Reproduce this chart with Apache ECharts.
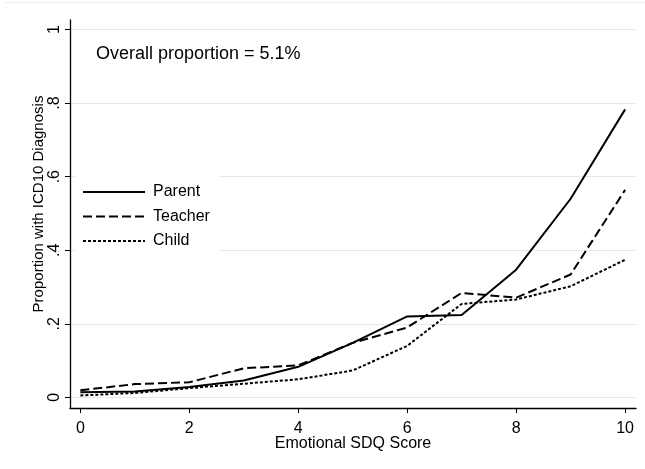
<!DOCTYPE html>
<html><head><meta charset="utf-8">
<script src="https://cdn.jsdelivr.net/npm/echarts@6/dist/echarts.min.js"></script>
<style>html,body{margin:0;padding:0;background:#fff}#c{width:645px;height:469px}</style>
</head><body><div id="c"></div>
<script>
const scores = [0,1,2,3,4,5,6,7,8,9,10];
const parent  = [0.014,0.016,0.028,0.046,0.083,0.148,0.220,0.224,0.347,0.540,0.783];
const teacher = [0.019,0.036,0.041,0.079,0.087,0.148,0.190,0.284,0.271,0.334,0.564];
const child   = [0.005,0.012,0.025,0.037,0.049,0.073,0.140,0.254,0.266,0.302,0.374];
const xTicks = [0,2,4,6,8,10];
const yTicks = [0,0.2,0.4,0.6,0.8,1];
const annotation = 'Overall proportion = 5.1%';

const FONT = '"Liberation Sans", Arial, sans-serif';
const pair = a => scores.map((s,i)=>[s,a[i]]);
const fmtY = v => { if (v===0) return '0'; if (v===1) return '1'; return String(+v.toFixed(1)).replace(/^0/,''); };

const chart = echarts.init(document.getElementById('c'), null, {renderer:'canvas'});
chart.setOption({
  animation:false,
  backgroundColor:'#fff',
  textStyle:{fontFamily:FONT},
  grid:{left:70,right:9,top:20,bottom:61,containLabel:false},
  title:{text:annotation,left:91,top:40,textStyle:{fontFamily:FONT,fontSize:18,fontWeight:'normal',color:'#000'}},
  legend:{
    orient:'vertical',left:75,top:176,
    data:['Parent','Teacher','Child'],
    itemWidth:62,itemHeight:14,itemGap:8.5,
    padding:[8,9,8,7],
    backgroundColor:'#fff',
    itemStyle:{opacity:0},
    textStyle:{fontFamily:FONT,fontSize:16,color:'#000',padding:[0,0,0,3]}
  },
  graphic:[{type:'line',shape:{x1:5,y1:2.5,x2:645,y2:2.5},style:{stroke:'#eeeeee',lineWidth:1},silent:true}],
  xAxis:{
    type:'value',min:-0.19,max:10.2,
    name:'Emotional SDQ Score',nameLocation:'middle',nameGap:28,nameMoveOverlap:false,
    nameTextStyle:{fontFamily:FONT,fontSize:16,color:'#000'},
    axisLine:{onZero:false,lineStyle:{color:'#000',width:1.3}},
    axisTick:{show:true,length:5,customValues:xTicks,lineStyle:{color:'#000'}},
    axisLabel:{customValues:xTicks,margin:13,fontFamily:FONT,fontSize:16,color:'#000'},
    splitLine:{show:false}
  },
  yAxis:{
    type:'value',min:-0.029,max:1.026,
    name:'Proportion with ICD10 Diagnosis',nameLocation:'middle',nameGap:24,nameMoveOverlap:false,
    nameTextStyle:{fontFamily:FONT,fontSize:15,color:'#000',padding:[0,0,0,20]},
    axisLine:{show:true,onZero:false,lineStyle:{color:'#000',width:1.3}},
    axisTick:{show:true,length:5,customValues:yTicks,lineStyle:{color:'#000'}},
    axisLabel:{customValues:yTicks,rotate:90,margin:7,fontFamily:FONT,fontSize:16,color:'#000',formatter:fmtY},
    splitLine:{show:true,lineStyle:{color:'#e8e8e8',width:1}}
  },
  series:[
    {name:'Parent',type:'line',data:pair(parent),symbol:'none',lineStyle:{color:'#000',width:2,type:'solid'},itemStyle:{color:'#000'}},
    {name:'Teacher',type:'line',data:pair(teacher),symbol:'none',lineStyle:{color:'#000',width:2,type:[9,4]},itemStyle:{color:'#000'}},
    {name:'Child',type:'line',data:pair(child),symbol:'none',lineStyle:{color:'#000',width:2,type:[3,2]},itemStyle:{color:'#000'}}
  ]
});
</script></body></html>
